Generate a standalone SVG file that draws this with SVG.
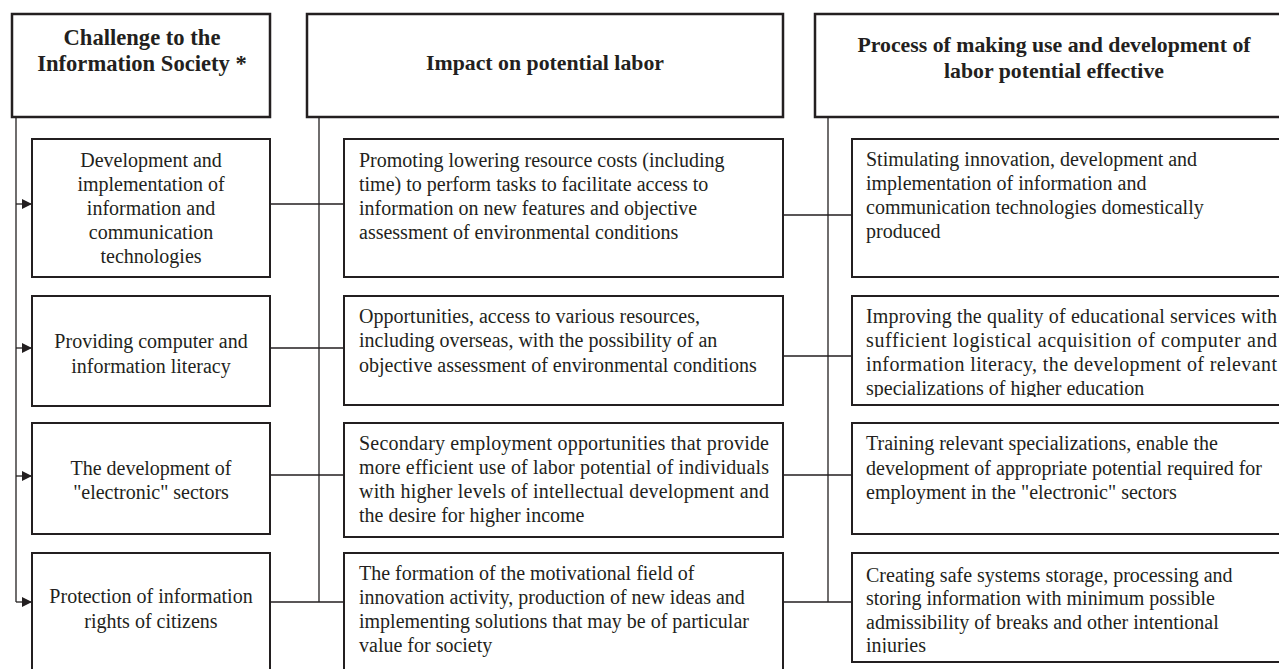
<svg xmlns="http://www.w3.org/2000/svg" width="1279" height="669" viewBox="0 0 1279 669">
  <style>
    .hdr { fill: #ffffff; stroke: #231f20; stroke-width: 2.5; }
    .box { fill: #ffffff; stroke: #231f20; stroke-width: 2; }
    .ln { fill: none; stroke: #231f20; stroke-width: 1.3; }
    .ht { font-family: "Liberation Serif", "Times New Roman", serif; font-weight: bold; font-size: 21.8px; fill: #231f20; text-anchor: middle; }
    .ht1 { font-size: 22.6px; }
    .ct { font-family: "Liberation Serif", "Times New Roman", serif; font-size: 20px; fill: #231f20; text-anchor: middle; }
    .bt { font-family: "Liberation Serif", "Times New Roman", serif; font-size: 20px; fill: #231f20; }
  </style>
  <defs>
    <marker id="arrow" markerUnits="userSpaceOnUse" markerWidth="10" markerHeight="10" refX="10" refY="5" orient="auto">
      <path d="M0,0 L10,5 L0,10 z" fill="#231f20"/>
    </marker>
    <clipPath id="clipR2"><rect x="852" y="296" width="440" height="101"/></clipPath>
    <clipPath id="clipR4"><rect x="852" y="553" width="440" height="100"/></clipPath>
  </defs>
  <rect width="1279" height="669" fill="#ffffff"/>

  <!-- connectors -->
  <g id="connectors">
    <path class="ln" d="M16,117 V602"/>
    <path class="ln" d="M16,204 H32" marker-end="url(#arrow)"/>
    <path class="ln" d="M16,348 H32" marker-end="url(#arrow)"/>
    <path class="ln" d="M16,476 H32" marker-end="url(#arrow)"/>
    <path class="ln" d="M16,602 H32" marker-end="url(#arrow)"/>
    <path class="ln" d="M319,117 V602"/>
    <path class="ln" d="M270,204 H344 M270,348 H344 M270,475 H344 M270,602 H344"/>
    <path class="ln" d="M828,117 V602"/>
    <path class="ln" d="M783,215 H852 M783,356 H852 M783,475 H852 M783,602 H852"/>
  </g>

  <!-- column headers -->
  <g id="header-challenge">
    <rect class="hdr" x="12" y="14" width="258" height="103"/>
    <text class="ht ht1" x="142" y="45">Challenge to the</text>
    <text class="ht ht1" x="142" y="71">Information Society *</text>
  </g>
  <g id="header-impact">
    <rect class="hdr" x="307" y="14" width="476" height="103"/>
    <text class="ht" x="545" y="70">Impact on potential labor</text>
  </g>
  <g id="header-process">
    <rect class="hdr" x="815" y="14" width="480" height="103"/>
    <text class="ht" x="1054" y="52">Process of making use and development of</text>
    <text class="ht" x="1054" y="78">labor potential effective</text>
  </g>

  <!-- challenges -->
  <g id="challenge-1">
    <rect class="box" x="32" y="139" width="238" height="138"/>
    <text class="ct" x="151" y="167">Development and</text>
    <text class="ct" x="151" y="191">implementation of</text>
    <text class="ct" x="151" y="215">information and</text>
    <text class="ct" x="151" y="239">communication</text>
    <text class="ct" x="151" y="263">technologies</text>
  </g>
  <g id="challenge-2">
    <rect class="box" x="32" y="296" width="238" height="110"/>
    <text class="ct" x="151" y="348">Providing computer and</text>
    <text class="ct" x="151" y="373">information literacy</text>
  </g>
  <g id="challenge-3">
    <rect class="box" x="32" y="423" width="238" height="111"/>
    <text class="ct" x="151" y="475">The development of</text>
    <text class="ct" x="151" y="499">"electronic" sectors</text>
  </g>
  <g id="challenge-4">
    <rect class="box" x="32" y="553" width="238" height="140"/>
    <text class="ct" x="151" y="603">Protection of information</text>
    <text class="ct" x="151" y="628">rights of citizens</text>
  </g>

  <!-- impacts -->
  <g id="impact-1">
    <rect class="box" x="344" y="139" width="439" height="138"/>
    <text class="bt" x="359" y="167">Promoting lowering resource costs (including</text>
    <text class="bt" x="359" y="191">time) to perform tasks to facilitate access to</text>
    <text class="bt" x="359" y="215">information on new features and objective</text>
    <text class="bt" x="359" y="239">assessment of environmental conditions</text>
  </g>
  <g id="impact-2">
    <rect class="box" x="344" y="296" width="439" height="109"/>
    <text class="bt" x="359" y="323">Opportunities, access to various resources,</text>
    <text class="bt" x="359" y="347">including overseas, with the possibility of an</text>
    <text class="bt" x="359" y="372">objective assessment of environmental conditions</text>
  </g>
  <g id="impact-3">
    <rect class="box" x="344" y="423" width="439" height="114"/>
    <text class="bt" x="359" y="450" textLength="410" lengthAdjust="spacing">Secondary employment opportunities that provide</text>
    <text class="bt" x="359" y="474" textLength="410" lengthAdjust="spacing">more efficient use of labor potential of individuals</text>
    <text class="bt" x="359" y="498" textLength="410" lengthAdjust="spacing">with higher levels of intellectual development and</text>
    <text class="bt" x="359" y="522">the desire for higher income</text>
  </g>
  <g id="impact-4">
    <rect class="box" x="344" y="553" width="439" height="140"/>
    <text class="bt" x="359" y="580">The formation of the motivational field of</text>
    <text class="bt" x="359" y="604">innovation activity, production of new ideas and</text>
    <text class="bt" x="359" y="628">implementing solutions that may be of particular</text>
    <text class="bt" x="359" y="652">value for society</text>
  </g>

  <!-- processes -->
  <g id="process-1">
    <rect class="box" x="852" y="139" width="443" height="138"/>
    <text class="bt" x="866" y="166">Stimulating innovation, development and</text>
    <text class="bt" x="866" y="190">implementation of information and</text>
    <text class="bt" x="866" y="214">communication technologies domestically</text>
    <text class="bt" x="866" y="238">produced</text>
  </g>
  <g id="process-2">
    <rect class="box" x="852" y="296" width="443" height="109"/>
    <g clip-path="url(#clipR2)">
      <text class="bt" x="866" y="323" textLength="411" lengthAdjust="spacing">Improving the quality of educational services with</text>
      <text class="bt" x="866" y="347" textLength="411" lengthAdjust="spacing">sufficient logistical acquisition of computer and</text>
      <text class="bt" x="866" y="371" textLength="411" lengthAdjust="spacing">information literacy, the development of relevant</text>
      <text class="bt" x="866" y="395">specializations of higher education</text>
    </g>
  </g>
  <g id="process-3">
    <rect class="box" x="852" y="423" width="443" height="111"/>
    <text class="bt" x="866" y="450">Training relevant specializations, enable the</text>
    <text class="bt" x="866" y="475">development of appropriate potential required for</text>
    <text class="bt" x="866" y="499">employment in the "electronic" sectors</text>
  </g>
  <g id="process-4">
    <rect class="box" x="852" y="553" width="443" height="109"/>
    <g clip-path="url(#clipR4)">
      <text class="bt" x="866" y="582">Creating safe systems storage, processing and</text>
      <text class="bt" x="866" y="605">storing information with minimum possible</text>
      <text class="bt" x="866" y="629">admissibility of breaks and other intentional</text>
      <text class="bt" x="866" y="652">injuries</text>
    </g>
  </g>
</svg>
